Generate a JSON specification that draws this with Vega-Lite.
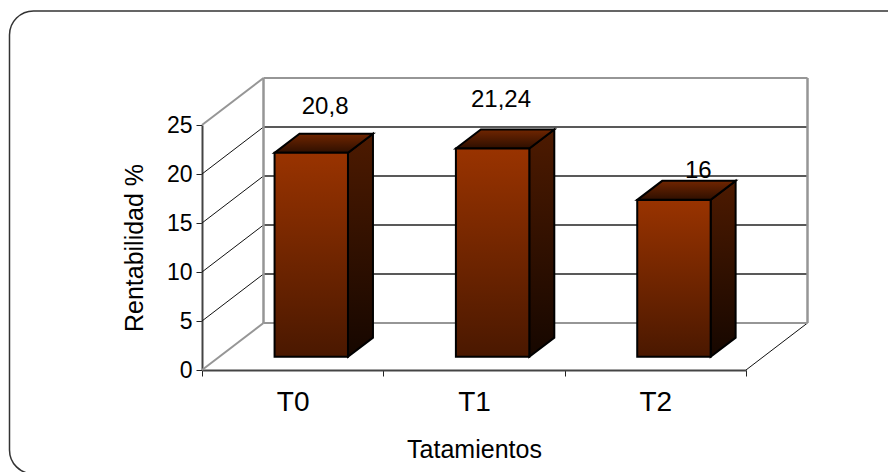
{
  "$schema": "https://vega.github.io/schema/vega-lite/v6.json",
  "width": 544,
  "height": 245,
  "autosize": {"type": "none"},
  "padding": {"left": 202, "top": 125, "right": 142, "bottom": 102},
  "background": "white",
  "config": {"font": "Liberation Sans", "view": {"stroke": null}},
  "data": {"values": [
    {"treatment": "T0", "value": 20.8},
    {"treatment": "T1", "value": 21.24},
    {"treatment": "T2", "value": 16}
  ]},
  "datasets": {
    "ticks": [{"tick": 0}, {"tick": 5}, {"tick": 10}, {"tick": 15}, {"tick": 20}, {"tick": 25}],
    "sides": [{"side": 0}, {"side": 3}],
    "frame": [{"part": "border"}]
  },
  "resolve": {"scale": {"x": "independent"}, "axis": {"y": "independent"}},
  "layer": [
    {
      "layer": [
        {
          "description": "Rounded chart border",
          "data": {"name": "frame"},
          "mark": {"type": "rect", "fill": "transparent", "stroke": "#333333", "strokeWidth": 1.5, "cornerRadius": 24},
          "encoding": {
            "x": {"datum": -1.0616, "type": "quantitative", "scale": {"domain": [0, 3]}, "axis": null},
            "x2": {"datum": 5},
            "y": {"datum": 36.63, "type": "quantitative", "scale": {"domain": [0, 25], "nice": false}, "axis": null},
            "y2": {"datum": -10.6}
          }
        },
        {
          "description": "Back wall gridlines",
          "data": {"name": "ticks"},
          "transform": [{"filter": "datum.tick > 0 && datum.tick < 25"}],
          "mark": {"type": "rule", "stroke": "#222222", "strokeWidth": 1.4, "xOffset": 61.5, "x2Offset": 61.5, "yOffset": -47},
          "encoding": {
            "x": {"datum": 0, "type": "quantitative", "scale": {"domain": [0, 3]}, "axis": null},
            "x2": {"datum": 3},
            "y": {"field": "tick", "type": "quantitative", "scale": {"domain": [0, 25], "nice": false}, "axis": null}
          }
        },
        {
          "description": "Side wall gridlines running back from the value axis",
          "data": {"name": "ticks"},
          "transform": [{"filter": "datum.tick > 0 && datum.tick < 25"}],
          "mark": {"type": "rule", "stroke": "#111111", "strokeWidth": 1, "x2Offset": 61.5, "y2Offset": -47},
          "encoding": {
            "x": {"datum": 0, "type": "quantitative", "scale": {"domain": [0, 3]}, "axis": null},
            "x2": {"datum": 0},
            "y": {"field": "tick", "type": "quantitative", "scale": {"domain": [0, 25], "nice": false}, "axis": null},
            "y2": {"field": "tick"}
          }
        },
        {
          "description": "Right floor edge",
          "data": {"name": "frame"},
          "mark": {"type": "rule", "stroke": "#111111", "strokeWidth": 1, "x2Offset": 61.5, "y2Offset": -47},
          "encoding": {
            "x": {"datum": 3, "type": "quantitative", "scale": {"domain": [0, 3]}, "axis": null},
            "x2": {"datum": 3},
            "y": {"datum": 0, "type": "quantitative", "scale": {"domain": [0, 25], "nice": false}, "axis": null},
            "y2": {"datum": 0}
          }
        },
        {
          "description": "Top and bottom edges of the back wall",
          "data": {"name": "ticks"},
          "transform": [{"filter": "datum.tick === 0 || datum.tick === 25"}],
          "mark": {"type": "rule", "stroke": "#969696", "strokeWidth": 2, "xOffset": 61.5, "x2Offset": 61.5, "yOffset": -47},
          "encoding": {
            "x": {"datum": 0, "type": "quantitative", "scale": {"domain": [0, 3]}, "axis": null},
            "x2": {"datum": 3},
            "y": {"field": "tick", "type": "quantitative", "scale": {"domain": [0, 25], "nice": false}, "axis": null}
          }
        },
        {
          "description": "Top and bottom edges of the side wall",
          "data": {"name": "ticks"},
          "transform": [{"filter": "datum.tick === 0 || datum.tick === 25"}],
          "mark": {"type": "rule", "stroke": "#969696", "strokeWidth": 2, "x2Offset": 61.5, "y2Offset": -47},
          "encoding": {
            "x": {"datum": 0, "type": "quantitative", "scale": {"domain": [0, 3]}, "axis": null},
            "x2": {"datum": 0},
            "y": {"field": "tick", "type": "quantitative", "scale": {"domain": [0, 25], "nice": false}, "axis": null},
            "y2": {"field": "tick"}
          }
        },
        {
          "description": "Vertical edges of the back wall",
          "data": {"name": "sides"},
          "mark": {"type": "rule", "stroke": "#969696", "strokeWidth": 2.5, "xOffset": 61.5, "yOffset": -47, "y2Offset": -47},
          "encoding": {
            "x": {"field": "side", "type": "quantitative", "scale": {"domain": [0, 3]}, "axis": null},
            "y": {"datum": 0, "type": "quantitative", "scale": {"domain": [0, 25], "nice": false}, "axis": null},
            "y2": {"datum": 25}
          }
        },
        {
          "description": "Right-hand face of each column",
          "transform": [
            {"calculate": "[0, 1]", "as": "corner"},
            {"flatten": ["corner"]},
            {"calculate": "indexof(['T0', 'T1', 'T2'], datum.treatment) + 0.805 + datum.corner * 0.1378", "as": "faceX"},
            {"calculate": "datum.value + 1.36 + datum.corner * 1.94", "as": "faceTop"},
            {"calculate": "1.36 + datum.corner * 1.94", "as": "faceBase"}
          ],
          "mark": {
            "type": "area",
            "stroke": "black",
            "strokeWidth": 2,
            "fill": {"x1": 0, "y1": 0, "x2": 0, "y2": 1, "gradient": "linear", "stops": [{"offset": 0, "color": "#4d1a00"}, {"offset": 1, "color": "#160700"}]}
          },
          "encoding": {
            "x": {"field": "faceX", "type": "quantitative", "scale": {"domain": [0, 3]}, "axis": null},
            "y": {"field": "faceTop", "type": "quantitative", "scale": {"domain": [0, 25], "nice": false}, "axis": null},
            "y2": {"field": "faceBase"},
            "detail": {"field": "treatment"}
          }
        },
        {
          "description": "Top face of each column",
          "transform": [
            {"calculate": "[0, 1, 2, 3]", "as": "corner"},
            {"flatten": ["corner"]},
            {"calculate": "indexof(['T0', 'T1', 'T2'], datum.treatment) + 0.4 + [0, 0.1378, 0.405, 0.5428][datum.corner]", "as": "faceX"},
            {"calculate": "datum.value + 1.36 + [0, 1.94, 1.94, 1.94][datum.corner]", "as": "faceTop"},
            {"calculate": "datum.value + 1.36 + [0, 0, 0, 1.94][datum.corner]", "as": "faceBase"}
          ],
          "mark": {
            "type": "area",
            "stroke": "black",
            "strokeWidth": 2,
            "fill": {"x1": 0, "y1": 0, "x2": 0, "y2": 1, "gradient": "linear", "stops": [{"offset": 0, "color": "#702500"}, {"offset": 1, "color": "#2e0f00"}]}
          },
          "encoding": {
            "x": {"field": "faceX", "type": "quantitative", "scale": {"domain": [0, 3]}, "axis": null},
            "y": {"field": "faceTop", "type": "quantitative", "scale": {"domain": [0, 25], "nice": false}, "axis": null},
            "y2": {"field": "faceBase"},
            "detail": {"field": "treatment"}
          }
        },
        {
          "description": "Value labels, each placed by hand above its column",
          "transform": [
            {"calculate": "replace('' + datum.value, '.', ',')", "as": "label"},
            {"calculate": "indexof(['T0', 'T1', 'T2'], datum.treatment) + 0.5 + ({T0: 0.179, T1: 0.149, T2: 0.237})[datum.treatment]", "as": "labelX"},
            {"calculate": "datum.value + ({T0: 5.32, T1: 5.63, T2: 3.62})[datum.treatment]", "as": "labelY"}
          ],
          "mark": {"type": "text", "fontSize": 24, "fill": "black", "align": "center", "baseline": "alphabetic"},
          "encoding": {
            "x": {"field": "labelX", "type": "quantitative", "scale": {"domain": [0, 3]}, "axis": null},
            "y": {"field": "labelY", "type": "quantitative", "scale": {"domain": [0, 25], "nice": false}, "axis": null},
            "text": {"field": "label"}
          }
        }
      ]
    },
    {
      "description": "Front face of each column, carrying both axes",
      "mark": {
        "type": "bar",
        "size": 73.4,
        "xOffset": 18.6,
        "yOffset": -13.3,
        "y2Offset": -13.3,
        "stroke": "black",
        "strokeWidth": 2,
        "fill": {"x1": 0, "y1": 0, "x2": 0, "y2": 1, "gradient": "linear", "stops": [{"offset": 0, "color": "#993300"}, {"offset": 1, "color": "#4a1800"}]}
      },
      "encoding": {
        "x": {
          "field": "treatment",
          "type": "nominal",
          "sort": null,
          "scale": {"paddingInner": 0, "paddingOuter": 0},
          "axis": {
            "title": "Tatamientos",
            "titleFontSize": 25,
            "titleFontWeight": "normal",
            "titleColor": "black",
            "titleBaseline": "alphabetic",
            "titleX": 272,
            "titleY": 87,
            "labelAngle": 0,
            "labelFontSize": 28,
            "labelColor": "black",
            "labelBaseline": "alphabetic",
            "labelPadding": 34,
            "tickBand": "extent",
            "tickSize": 6,
            "tickColor": "#222222",
            "tickWidth": 1,
            "domainColor": "#444444",
            "domainWidth": 2,
            "grid": false
          }
        },
        "y": {
          "field": "value",
          "type": "quantitative",
          "scale": {"domain": [0, 25], "nice": false},
          "axis": {
            "title": "Rentabilidad %",
            "titleFontSize": 25,
            "titleFontWeight": "normal",
            "titleColor": "black",
            "titleBaseline": "alphabetic",
            "titleX": -60,
            "titleY": 122.5,
            "values": [0, 5, 10, 15, 20, 25],
            "labelFontSize": 23,
            "labelColor": "black",
            "labelPadding": 4,
            "tickSize": 6,
            "tickColor": "#222222",
            "tickWidth": 1,
            "domainColor": "#444444",
            "domainWidth": 2,
            "grid": false
          }
        },
        "y2": {"datum": 0}
      }
    }
  ]
}
